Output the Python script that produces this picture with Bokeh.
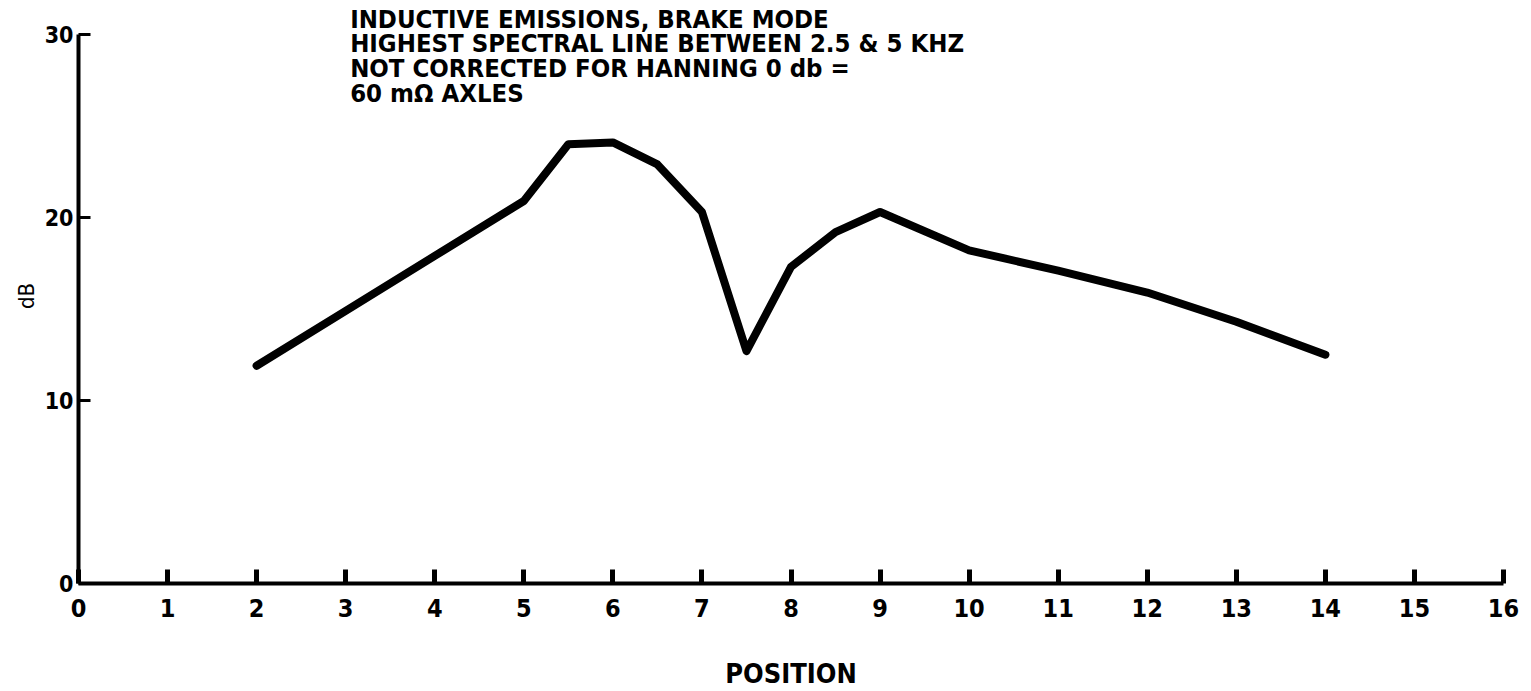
from bokeh.plotting import figure
from bokeh.models import Range1d, FixedTicker, Label
from bokeh.embed import file_html
from bokeh.resources import INLINE

# Data
position = [2, 3, 4, 5, 5.5, 6, 6.5, 7, 7.5, 8, 8.5, 9, 10, 11, 12, 13, 14]
db = [11.9, 14.9, 17.9, 20.9, 24.0, 24.1, 22.9, 20.3, 12.7, 17.3, 19.2, 20.3, 18.2, 17.1, 15.9, 14.3, 12.5]

x_ticks = list(range(0, 17))
y_ticks = [0, 10, 20, 30]

title_lines = [
    "INDUCTIVE EMISSIONS, BRAKE MODE",
    "HIGHEST SPECTRAL LINE BETWEEN 2.5 & 5 KHZ",
    "NOT CORRECTED FOR HANNING 0 db =",
    "60 m\u03a9 AXLES",
]

FONT = "'Liberation Sans Narrow', 'DejaVu Sans Condensed', 'Roboto Condensed', sans-serif"

p = figure(frame_width=1425, frame_height=575, output_backend="svg", toolbar_location=None,
           x_range=Range1d(0, 16), y_range=Range1d(0, 31.42),
           min_border_left=78, min_border_right=20, min_border_top=8, min_border_bottom=95)
p.outline_line_color = None
p.xgrid.visible = False
p.ygrid.visible = False
p.background_fill_color = "white"
p.border_fill_color = "white"

p.line(position, db, line_width=8, line_color="black", line_join="round", line_cap="round")

for ax in (p.xaxis[0], p.yaxis[0]):
    ax.axis_line_width = 4
    ax.axis_line_color = "black"
    ax.major_tick_line_color = "black"
    ax.minor_tick_line_color = None
    ax.major_tick_out = 0
    ax.major_label_text_font = FONT
    ax.major_label_text_font_style = "bold"
    ax.major_label_text_color = "black"
    ax.axis_label_text_color = "black"
    ax.axis_label_text_font = FONT

p.xaxis.ticker = FixedTicker(ticks=x_ticks)
p.xaxis.major_tick_in = 14
p.xaxis.major_tick_line_width = 5
p.xaxis.major_label_text_font_size = "25px"
p.xaxis.major_label_standoff = 15
p.xaxis.axis_label = "POSITION"
p.xaxis.axis_label_text_font_size = "27px"
p.xaxis.axis_label_text_font_style = "bold"
p.xaxis.axis_label_standoff = 38

p.yaxis.ticker = FixedTicker(ticks=y_ticks)
p.yaxis.bounds = (0, 30)
p.yaxis.major_tick_in = 12
p.yaxis.major_tick_line_width = 3
p.yaxis.major_label_text_font_size = "23px"
p.yaxis.major_label_standoff = 5
p.yaxis.axis_label = "dB"
p.yaxis.axis_label_text_font_size = "22px"
p.yaxis.axis_label_text_font_style = "normal"
p.yaxis.axis_label_standoff = 3

title_y = [30.87, 29.52, 28.17, 26.82]
for t, yy in zip(title_lines, title_y):
    p.add_layout(Label(x=3.05, y=yy, text=t, text_font=FONT, text_font_style="bold",
                       text_font_size="25.5px", text_baseline="middle", text_color="black"))

open("out.html", "w").write(file_html(p, INLINE))
